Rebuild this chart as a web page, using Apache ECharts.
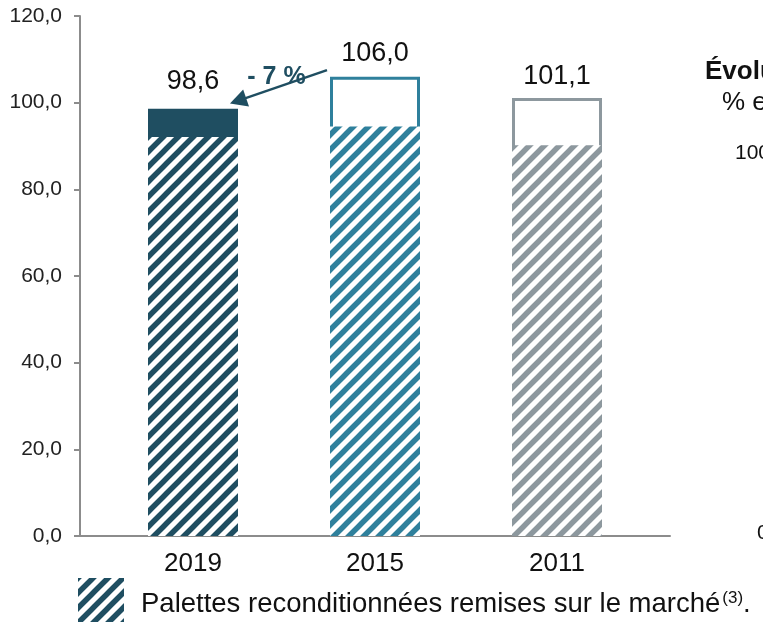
<!DOCTYPE html>
<html>
<head>
<meta charset="utf-8">
<script src="https://cdn.jsdelivr.net/npm/echarts@6/dist/echarts.min.js"></script>
<style>
html,body{margin:0;padding:0;background:#fff;}
#main{width:763px;height:624px;}
</style>
</head>
<body>
<div id="main"></div>
<script>
// ---- data ----
const categories = ['2019', '2015', '2011'];
const totals = [98.6, 106.0, 101.1];
const reconditioned = [92.1, 94.5, 90.2];
const yTicks = { min: 0, max: 120, interval: 20 };
const changeLabel = '- 7 %';
const legendText = 'Palettes reconditionnées remises sur le marché';

// ---- styles ----
const FONT = 'Liberation Sans, Arial, sans-serif';
const colors = ['#1f4e61', '#2f809c', '#8d989e'];
const axisColor = '#8c8c8c';

function hatch(color) {
  const s = 15;
  const c = document.createElement('canvas');
  c.width = s; c.height = s;
  const g = c.getContext('2d');
  g.fillStyle = '#fff';
  g.fillRect(0, 0, s, s);
  g.strokeStyle = color;
  g.lineWidth = 5.5;
  g.beginPath();
  for (const k of [-s, 0, s]) {
    g.moveTo(k - 5, s + 5);
    g.lineTo(k + s + 5, -5);
  }
  g.stroke();
  return { image: c, repeat: 'repeat' };
}

const fmt = v => v.toFixed(1).replace('.', ',');

const chart = echarts.init(document.getElementById('main'));

const labelDist = [14, 10, 8];

const option = {
  backgroundColor: '#fff',
  animation: false,
  textStyle: { fontFamily: FONT },
  grid: [
    { left: 102, width: 546, top: 16, height: 520 },
    { left: 80, right: 93, top: 16, height: 520 }
  ],
  xAxis: [
    {
      type: 'category', data: categories, gridIndex: 0,
      axisLine: { show: false }, axisTick: { show: false },
      axisLabel: { fontSize: 26, color: '#111', margin: 15, fontFamily: FONT }
    },
    {
      type: 'value', gridIndex: 1, min: 0, max: 1,
      axisLine: { show: true, lineStyle: { color: axisColor, width: 2 } },
      axisTick: { show: false }, axisLabel: { show: false }, splitLine: { show: false }
    }
  ],
  yAxis: [
    {
      type: 'value', gridIndex: 0, min: yTicks.min, max: yTicks.max, interval: yTicks.interval,
      offset: 22,
      axisLine: { show: true, lineStyle: { color: axisColor, width: 2 } },
      axisTick: { show: true, length: 6, lineStyle: { color: axisColor, width: 2 } },
      splitLine: { show: false },
      axisLabel: { formatter: fmt, fontSize: 21, color: '#222', margin: 18, fontFamily: FONT }
    },
    { type: 'value', gridIndex: 1, min: 0, max: 1, show: false }
  ],
  legend: {
    left: 73, top: 573,
    itemWidth: 46, itemHeight: 44, itemGap: 10,
    icon: 'rect',
    data: [legendText],
    selectedMode: false,
    formatter: name => '{a|' + name + '}{s|(3)}{a|.}',
    textStyle: {
      rich: {
        a: { fontSize: 27.5, color: '#111', fontFamily: FONT },
        s: { fontSize: 17, color: '#111', fontFamily: FONT, padding: [0, 0, 12, 2] }
      },
      padding: [8, 0, 0, 12]
    }
  },
  series: [
    {
      name: 'total', type: 'bar', xAxisIndex: 0, yAxisIndex: 0,
      barWidth: 90, barGap: '-100%', z: 2,
      data: totals.map((v, i) => ({
        value: v,
        itemStyle: i === 0
          ? { color: colors[0] }
          : { color: '#fff', borderColor: colors[i], borderWidth: 3 },
        label: { distance: labelDist[i] }
      })),
      label: {
        show: true, position: 'top', formatter: p => fmt(p.value),
        fontSize: 27, color: '#111', fontFamily: FONT
      }
    },
    {
      name: legendText, type: 'bar', xAxisIndex: 0, yAxisIndex: 0,
      barWidth: 90, barGap: '-100%', z: 3,
      itemStyle: { color: hatch(colors[0]) },
      data: reconditioned.map((v, i) => ({
        value: v,
        itemStyle: { color: hatch(colors[i]) }
      }))
    }
  ]
};
chart.setOption(option);

// ---- arrow annotation between 2015 and 2019 ----
const c19 = chart.convertToPixel({ xAxisIndex: 0 }, categories[0]);
const c15 = chart.convertToPixel({ xAxisIndex: 0 }, categories[1]);
const yStart = chart.convertToPixel({ yAxisIndex: 0 }, 107.5);
const yEnd = chart.convertToPixel({ yAxisIndex: 0 }, 99.8);
const x1 = c15 - 48, y1 = yStart;
const x2 = c19 + 37, y2 = yEnd;
const dx = x2 - x1, dy = y2 - y1, len = Math.hypot(dx, dy);
const ux = dx / len, uy = dy / len;
const headLen = 17, headW = 9;
const bx = x2 - ux * headLen, by = y2 - uy * headLen;
const px = -uy, py = ux;

chart.setOption({
  graphic: [
    {
      type: 'line', silent: true,
      shape: { x1: x1, y1: y1, x2: bx + ux * 2, y2: by + uy * 2 },
      style: { stroke: colors[0], lineWidth: 2.5 }
    },
    {
      type: 'polygon', silent: true,
      shape: { points: [[x2, y2], [bx + px * headW, by + py * headW], [bx - px * headW, by - py * headW]] },
      style: { fill: colors[0] }
    },
    {
      type: 'text', silent: true, x: (x1 + x2) / 2 - 2, y: (y1 + y2) / 2 - 10,
      style: {
        text: changeLabel, fill: colors[0], font: 'bold 25px ' + FONT,
        textAlign: 'center', textVerticalAlign: 'middle'
      }
    },
    // clipped text from the neighbouring chart on the right
    { type: 'text', silent: true, x: 705, y: 72, style: { text: 'Évolution', fill: '#111', font: 'bold 26px ' + FONT, textVerticalAlign: 'middle' } },
    { type: 'text', silent: true, x: 722, y: 103, style: { text: '% en', fill: '#111', font: '26px ' + FONT, textVerticalAlign: 'middle' } },
    { type: 'text', silent: true, x: 735, y: 153, style: { text: '100 %', fill: '#111', font: '21px ' + FONT, textVerticalAlign: 'middle' } },
    { type: 'text', silent: true, x: 757, y: 533, style: { text: '0 %', fill: '#111', font: '21px ' + FONT, textVerticalAlign: 'middle' } }
  ]
});
</script>
</body>
</html>
